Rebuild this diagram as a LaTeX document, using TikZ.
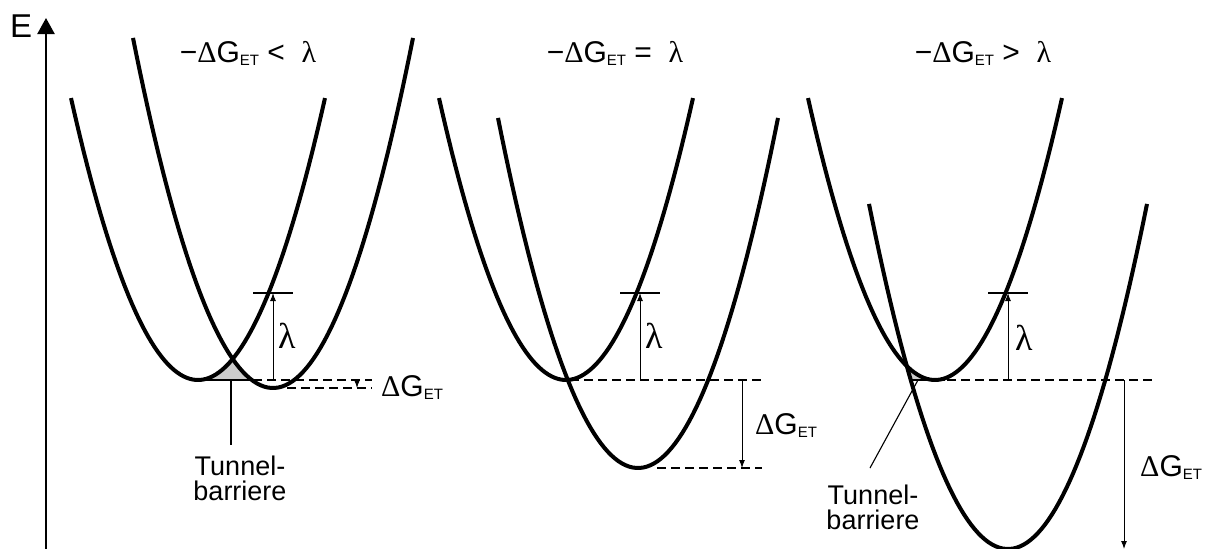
\documentclass[tikz,border=0pt]{standalone}
\usepackage{fontspec}
\setmainfont{Liberation Sans}
\newfontfamily\grk{Liberation Serif}
\usetikzlibrary{arrows.meta}
\newcommand{\ET}{\raisebox{-3pt}{\fontsize{15}{15}\selectfont ET}}
\newcommand{\dG}{{\grk Δ}G\ET}

\begin{document}
\begin{tikzpicture}[x=1pt, y=-1pt,
  pot/.style={line width=4pt, line join=round},
  axis/.style={line width=2.4pt, -{Triangle[length=16pt,width=17pt]}},
  level/.style={line width=1.5pt, dash pattern=on 9pt off 5pt},
  gap/.style={line width=1pt, -{Latex[length=8pt,width=6pt]}},
  bar/.style={line width=1.1pt},
  lbl/.style={font=\fontsize{30}{32}\selectfont, inner sep=0pt},
  lam/.style={font=\fontsize{36}{38}\selectfont\grk, inner sep=0pt},
  note/.style={font=\fontsize{27}{25}\selectfont, align=center, inner sep=0pt},
  barrier/.style={fill=gray!40}]
\useasboundingbox (0,0) rectangle (1208,549);

% energy axis
\coordinate (ax0) at (46,549); \coordinate (ax1) at (46,18);
\draw[axis] (ax0) -- (ax1);
\node[lbl, font=\fontsize{33}{35}\selectfont, anchor=base west] (elab) at (10,37) {E};

% titles
\node[lbl, anchor=base] (t1) at (248,62) {−\dG{} <\ \ {\grk λ}};
\node[lbl, anchor=base] (t2) at (615,62) {−\dG{} =\ \ {\grk λ}};
\node[lbl, anchor=base] (t3) at (983,62) {−\dG{} >\ \ {\grk λ}};

% panel 1: -dG < lambda
\fill[barrier] (198,380) -- plot[domain=198:232.6, samples=20] (\x,{380-1.748*((\x-198)/10)^2}) -- plot[domain=232.6:251.8, samples=20] (\x,{388-1.786*((\x-273)/10)^2}) -- cycle;
\draw[bar] (198,380) -- (252,380);
\draw[level] (253,380) -- (372,380); \draw[level] (287,388) -- (372,388);
\draw[pot] plot[domain=71:325, samples=80] (\x,{380-1.748*((\x-198)/10)^2});
\draw[pot] plot[domain=133:413, samples=80] (\x,{388-1.786*((\x-273)/10)^2});
\coordinate (l1) at (273,380); \coordinate (l1t) at (273,293);
\draw[gap] (l1) -- (l1t); \draw[bar] ([xshift=-20pt]l1t) -- ([xshift=20pt]l1t);
\node[lam, anchor=west] (lam1) at (278,336) {λ};
\coordinate (g1a) at (357,380); \coordinate (g1b) at (357,388);
\draw[gap] (g1a) -- (g1b);
\node[lbl, anchor=base west] (g1) at (381,396) {\dG};
\coordinate (b1) at (231,380);
\node[note, anchor=north] (tb1) at (240,456) {Tunnel-\\barriere};
\draw[bar] (b1) -- (231,445);

% panel 2: -dG = lambda
\draw[level] (570,380) -- (762,380); \draw[level] (657,468) -- (762,468);
\draw[pot] plot[domain=439:693, samples=80] (\x,{380-1.748*((\x-566)/10)^2});
\draw[pot] plot[domain=498:778, samples=80] (\x,{468-1.786*((\x-638)/10)^2});
\coordinate (l2) at (640,380); \coordinate (l2t) at (640,293);
\draw[gap] (l2) -- (l2t); \draw[bar] ([xshift=-20pt]l2t) -- ([xshift=20pt]l2t);
\node[lam, anchor=west] (lam2) at (645,336) {λ};
\coordinate (g2a) at (742,380); \coordinate (g2b) at (742,468);
\draw[gap] (g2a) -- (g2b);
\node[lbl, anchor=base west] (g2) at (755,434) {\dG};

% panel 3: -dG > lambda
\fill[barrier] (906.7,366) -- plot[domain=906.7:935, samples=20] (\x,{380-1.748*((\x-935)/10)^2}) -- (910.7,380) -- cycle;
\draw[bar] (910,380) -- (945,380);
\draw[level] (947,380) -- (1153,380);
\draw[pot] plot[domain=808:1062, samples=80] (\x,{380-1.748*((\x-935)/10)^2});
\draw[pot] plot[domain=869:1147, samples=80] (\x,{549-1.786*((\x-1008)/10)^2});
\coordinate (l3) at (1008,380); \coordinate (l3t) at (1008,293);
\draw[gap] (l3) -- (l3t); \draw[bar] ([xshift=-20pt]l3t) -- ([xshift=20pt]l3t);
\node[lam, anchor=west] (lam3) at (1015,338) {λ};
\coordinate (g3a) at (1124,380); \coordinate (g3b) at (1124,549);
\draw[gap] (g3a) -- (g3b);
\node[lbl, anchor=base west] (g3) at (1140,476) {\dG};
\coordinate (b3) at (918,380); \coordinate (b3e) at (870,468);
\draw[bar] (b3) -- (b3e);
\node[note, anchor=north] (tb3) at (873,485) {Tunnel-\\barriere};
\end{tikzpicture}
\end{document}
